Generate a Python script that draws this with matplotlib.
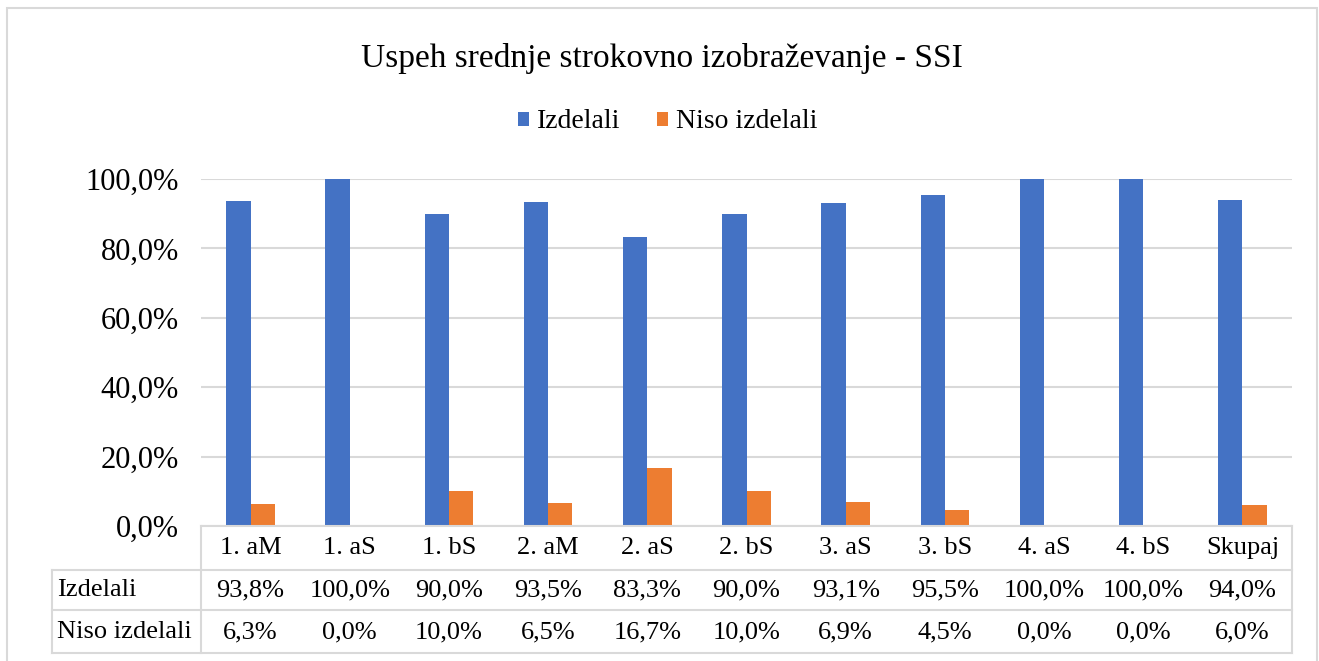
import matplotlib.pyplot as plt
import matplotlib.patches as mpatches
from matplotlib.lines import Line2D
import numpy as np

# data
categories = ['1. aM', '1. aS', '1. bS', '2. aM', '2. aS', '2. bS',
              '3. aS', '3. bS', '4. aS', '4. bS', 'Skupaj']
izdelali = [93.8, 100.0, 90.0, 93.5, 83.3, 90.0, 93.1, 95.5, 100.0, 100.0, 94.0]
niso_izdelali = [6.3, 0.0, 10.0, 6.5, 16.7, 10.0, 6.9, 4.5, 0.0, 0.0, 6.0]
series_names = ['Izdelali', 'Niso izdelali']
y_ticks = [0, 20, 40, 60, 80, 100]

BLUE = '#4472C4'
ORANGE = '#ED7D31'
GRID = '#d9d9d9'
W, H = 1319, 661


def pct(v):
    return f'{v:.1f}%'.replace('.', ',')


plt.rcParams['font.family'] = ['Liberation Serif', 'DejaVu Serif']

fig = plt.figure(figsize=(W / 100, H / 100), dpi=100)
ax_left, ax_right, ax_top, ax_bottom = 201, 1292, 179, 526
ax = fig.add_axes([ax_left / W, 1 - ax_bottom / H,
                   (ax_right - ax_left) / W, (ax_bottom - ax_top) / H])

x = np.arange(len(categories))
bw = 0.245
ax.bar(x - bw / 2, izdelali, width=bw, color=BLUE, label=series_names[0])
ax.bar(x + bw / 2, niso_izdelali, width=bw, color=ORANGE, label=series_names[1])

ax.set_xlim(-0.5, len(categories) - 0.5)
ax.set_ylim(0, 100)
ax.set_yticks(y_ticks)
ax.set_yticklabels([pct(v) for v in y_ticks], fontsize=22)
ax.set_xticks([])
ax.tick_params(axis='y', length=0, pad=16)
ax.set_axisbelow(True)
ax.grid(axis='y', color=GRID, linewidth=1.5)
for s in ['top', 'right', 'left']:
    ax.spines[s].set_visible(False)
ax.spines['bottom'].set_color(GRID)
ax.spines['bottom'].set_linewidth(1.5)

# data table under the plot, in axes coordinates
ah = ax_bottom - ax_top
aw = ax_right - ax_left
row_lines = [(570 - ax_bottom) / -ah, (610 - ax_bottom) / -ah, (653 - ax_bottom) / -ah]
row_centers = [(548 - ax_bottom) / -ah, (590 - ax_bottom) / -ah, (632 - ax_bottom) / -ah]
table_left = (52 - ax_left) / aw

kw = dict(color=GRID, linewidth=1.5, transform=ax.transAxes, clip_on=False)
for yl in row_lines:
    ax.add_line(Line2D([table_left, 1], [yl, yl], **kw))
ax.add_line(Line2D([0, 0], [0, row_lines[-1]], **kw))
ax.add_line(Line2D([1, 1], [0, row_lines[-1]], **kw))
ax.add_line(Line2D([table_left, table_left], [row_lines[0], row_lines[-1]], **kw))

blend = ax.get_xaxis_transform()
for i, cat in enumerate(categories):
    ax.text(i, row_centers[0], cat, ha='center', va='center', fontsize=19,
            transform=blend, clip_on=False)
    ax.text(i, row_centers[1], pct(izdelali[i]), ha='center', va='center',
            fontsize=19, transform=blend, clip_on=False)
    ax.text(i, row_centers[2], pct(niso_izdelali[i]), ha='center', va='center',
            fontsize=19, transform=blend, clip_on=False)
for name, yc in zip(series_names, row_centers[1:]):
    ax.text(table_left + 5 / aw, yc, name, ha='left', va='center', fontsize=19,
            transform=ax.transAxes, clip_on=False)

fig.text(662 / W, 1 - 58 / H, 'Uspeh srednje strokovno izobraževanje - SSI',
         ha='center', va='center', fontsize=24)
fig.legend(loc='center', bbox_to_anchor=(668 / W, 1 - 122 / H), ncol=2,
           frameon=False, fontsize=20, handlelength=0.4, handleheight=0.4,
           handletextpad=0.3, columnspacing=1.3)

fig.patches.append(mpatches.Rectangle((7 / W, -0.01), 1310 / W, 1.01 - 8 / H,
                                      transform=fig.transFigure, fill=False,
                                      edgecolor=GRID, linewidth=1.5))

fig.savefig('out.png', dpi=100)
